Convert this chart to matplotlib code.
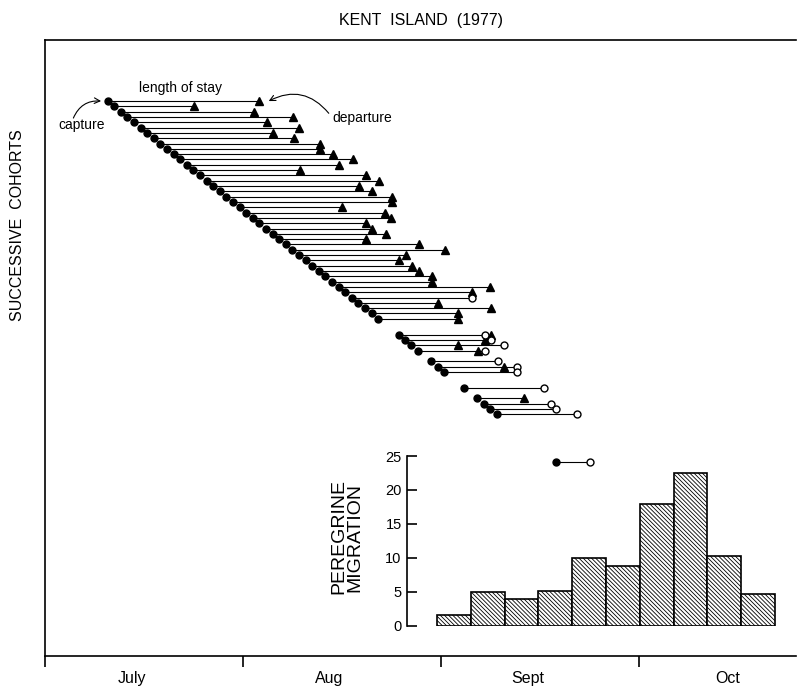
import numpy as np
import matplotlib.pyplot as plt

plt.rcParams['font.family'] = ['Liberation Sans', 'DejaVu Sans']
plt.rcParams['hatch.linewidth'] = 0.6

# x is days counted from 1 July, y is the cohort row (top to bottom)
months = ['July', 'Aug', 'Sept', 'Oct']
month_edges = [0, 30, 60, 90, 113.8]
month_label_pos = [13.2, 43.0, 73.2, 103.5]

rows = list(range(42)) + [44, 45, 46, 47, 49, 50, 51, 54, 56, 57, 58, 59, 68]

capture = [9.5, 10.5, 11.5, 12.5, 13.5, 14.5, 15.5, 16.5, 17.5, 18.5,
           19.5, 20.5, 21.5, 22.5, 23.5, 24.5, 25.5, 26.5, 27.5, 28.5,
           29.5, 30.5, 31.5, 32.5, 33.5, 34.5, 35.5, 36.5, 37.5, 38.5,
           39.5, 40.5, 41.5, 42.5, 43.5, 44.5, 45.5, 46.5, 47.5, 48.5,
           49.5, 50.5,
           53.6, 54.5, 55.5, 56.5, 58.5, 59.5, 60.5, 63.5, 65.5, 66.5,
           67.5, 68.5, 77.5]

nan = np.nan
departure = [32.5, 22.6, 31.6, 37.6, 33.6, 38.5, 34.6, 37.7, 41.6, 41.7,
             43.6, 46.6, 44.6, 38.6, 48.6, 50.6, 47.6, 49.6, 52.6, 52.6,
             45.0, 51.5, 52.5, 48.6, 49.6, 51.6, 48.6, 56.7, 60.6, 54.7,
             53.6, 55.6, 56.7, 58.6, 58.6, 67.4, 64.7, nan, 59.6, 67.6,
             62.6, 62.6,
             67.6, 66.7, 62.6, 65.6, nan, 69.6, nan, nan, 72.6, nan,
             nan, nan, nan]

last_seen = [nan] * 37 + [64.7] + [nan] * 4 + \
            [66.7, 67.6, 69.6, 66.6, 68.6, 71.5, 71.5, 75.6, nan, 76.6,
             77.5, 80.6, 82.6]

# peregrine counts per ~5-day period
hist_start = 59.4
hist_width = 5.12
peregrines = [1.6, 4.9, 4.0, 5.1, 9.9, 8.8, 17.9, 22.5, 10.2, 4.6]

fig = plt.figure(figsize=(8.11, 6.94), dpi=100)
ax = fig.add_axes([45 / 811, 1 - 656 / 694, 751 / 811, 616 / 694])

y = np.array(rows)
x0 = np.array(capture)
dep = np.array(departure)
seen = np.array(last_seen)
x1 = np.nanmax(np.vstack([dep, seen]), axis=0)

ax.hlines(y, x0, x1, color='black', lw=0.8, zorder=1)
ax.plot(x0, y, 'o', color='black', ms=5, zorder=3)
ax.plot(dep, y, '^', color='black', ms=6, zorder=3)
ax.plot(seen, y, 'o', mfc='white', mec='black', mew=1.0, ms=5, zorder=4)

ax.set_xlim(month_edges[0], month_edges[-1])
ax.set_ylim(104.5, -11.5)
ax.spines['right'].set_visible(False)
for s in ['left', 'top', 'bottom']:
    ax.spines[s].set_linewidth(1.2)
ax.set_yticks([])
ax.set_xticks(month_edges[:-1])
ax.set_xticklabels([])
ax.tick_params(axis='x', which='major', direction='out', length=8, width=1.2)
ax.set_xticks(month_label_pos, minor=True)
ax.set_xticklabels(months, minor=True, fontsize=11.5)
ax.tick_params(axis='x', which='minor', length=0, pad=11)

ax.set_ylabel('SUCCESSIVE  COHORTS', fontsize=11.5)
ax.yaxis.set_label_coords(-0.026, 0.70)
fig.text(421 / 811, 1 - 20 / 694, 'KENT  ISLAND  (1977)', ha='center',
         va='center', fontsize=11.5)

# annotations
ax.text(20.6, -2.4, 'length of stay', fontsize=10, ha='center', va='center')
ax.text(5.6, 4.5, 'capture', fontsize=10, ha='center', va='center')
ax.annotate('', xy=(x0[0] - 1.0, 0), xytext=(4.3, 3.2),
            arrowprops=dict(arrowstyle='->', lw=0.8, color='black',
                            connectionstyle='arc3,rad=-0.35',
                            shrinkA=0, shrinkB=0))
ax.text(43.6, 3.2, 'departure', fontsize=10, ha='left', va='center')
ax.annotate('', xy=(departure[0] + 1.4, 0), xytext=(43.0, 2.3),
            arrowprops=dict(arrowstyle='->', lw=0.8, color='black',
                            connectionstyle='arc3,rad=0.4',
                            shrinkA=0, shrinkB=0))

# inset histogram sharing the day scale
hax = fig.add_axes([45 / 811, 1 - 625.7 / 694, 751 / 811, 169.7 / 694])
hax.patch.set_alpha(0)
lefts = hist_start + hist_width * np.arange(len(peregrines))
hax.bar(lefts, peregrines, width=hist_width, align='edge', color='white',
        edgecolor='black', lw=1.2, hatch='\\\\\\\\\\\\\\\\')
hax.set_xlim(month_edges[0], month_edges[-1])
hax.set_ylim(0, 25)
for s in ['right', 'top', 'bottom']:
    hax.spines[s].set_visible(False)
hax.spines['left'].set_position(('data', 54.9))
hax.spines['left'].set_linewidth(1.2)
hax.set_xticks([])
hax.set_yticks([0, 5, 10, 15, 20, 25])
hax.tick_params(axis='y', direction='in', length=7, width=1.2, pad=4,
                labelsize=10.5)
fig.text(347 / 811, 1 - 537 / 694, 'PEREGRINE\nMIGRATION', rotation=90,
         ha='center', va='center', fontsize=14, linespacing=0.9)

fig.savefig('out.png', dpi=100)
plt.close(fig)
